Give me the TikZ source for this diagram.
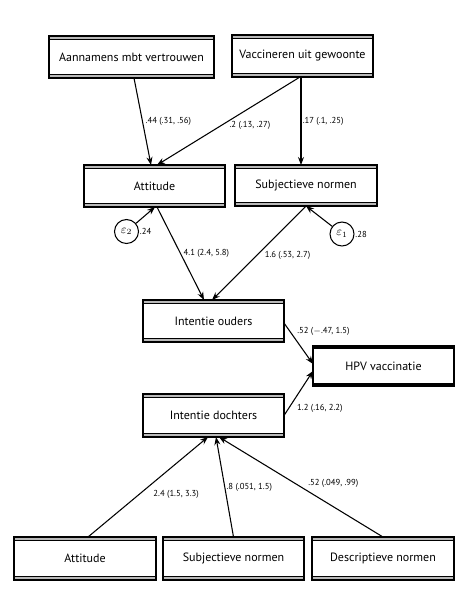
\documentclass[tikz,border=0pt]{standalone}
\usepackage{fontspec}
\setmainfont{PT Sans}
\usetikzlibrary{arrows.meta,calc}
\newcommand\dlines[1]{%
  \fill[gray!55] (#1.north west) rectangle ([yshift=-2.4pt]#1.north east);
  \draw[line width=0.5pt] ([yshift=-2.4pt]#1.north west) -- ([yshift=-2.4pt]#1.north east);
  \fill[gray!55] (#1.south west) rectangle ([yshift=2.4pt]#1.south east);
  \draw[line width=0.5pt] ([yshift=2.4pt]#1.south west) -- ([yshift=2.4pt]#1.south east);
  \draw[line width=0.9pt] (#1.north west) rectangle (#1.south east);
}
\tikzset{
  box/.style={draw, line width=0.9pt, fill=white, outer sep=0pt, inner sep=2pt,
    font=\fontsize{9}{11}\selectfont},
  bw/.style={minimum width=#1*0.75pt},
  bh/.style={minimum height=#1*0.75pt},
  lbl/.style={font=\fontsize{6.5}{8}\selectfont, inner sep=1pt},
  arr/.style={-{Stealth[length=6pt,width=4.5pt]}, line width=0.8pt},
  errc/.style={circle, draw, line width=0.8pt, minimum size=18pt, inner sep=0pt, font=\fontsize{9}{10}\selectfont},
}
\begin{document}
\begin{tikzpicture}[x=0.75pt,y=-0.75pt]
\useasboundingbox (0,0) rectangle (464,597);
\fill[white] (0,0) rectangle (464,597);
% nodes
\node[box,bw=165,bh=42] (a) at (131.5,57) {Aannamens mbt vertrouwen};
\node[box,bw=141,bh=42] (v) at (302.5,56) {Vaccineren uit gewoonte};
\node[box,bw=141,bh=42] (att) at (154.5,186) {Attitude};
\node[box,bw=142,bh=41] (sub) at (306,185.5) {Subjectieve normen};
\node[box,bw=141,bh=42] (io) at (213.5,321) {Intentie ouders};
\node[box,bw=141,bh=40,line width=1.4pt] (hpv) at (383.5,366) {HPV vaccinatie};
\node[box,bw=141,bh=43] (id) at (213.5,415.5) {Intentie dochters};
\node[box,bw=142,bh=43] (b1) at (85,558.5) {Attitude};
\node[box,bw=141,bh=43] (b2) at (233.5,558.5) {Subjectieve normen};
\node[box,bw=142,bh=43] (b3) at (383,558.5) {Descriptieve normen};
\foreach \n in {a,v,att,sub,io,id,b1,b2,b3} {\dlines{\n}}
\draw[line width=3pt] ([yshift=-1pt]hpv.north west) -- ([yshift=-1pt]hpv.north east);
\draw[line width=3pt] ([yshift=1pt]hpv.south west) -- ([yshift=1pt]hpv.south east);
\node[errc, label={[lbl,inner sep=0.5pt]east:.24}] (e2) at (126.5,231.5) {$\varepsilon_2$};
\node[errc, label={[lbl,inner sep=0.5pt]east:.28}] (e1) at (342,234) {$\varepsilon_1$};
% connectors
\draw[arr] ($(a.south)+(2.5,0)$) -- ($(att.north)+(-3.5,0)$)
  node[lbl,pos=0.5,right,xshift=1pt] {.44 (.31, .56)};
\draw[arr] ($(v.south)+(-2.5,0)$) -- ($(att.north)+(2.5,0)$)
  node[lbl,pos=0.35,below,yshift=-9pt] {.2 (.13, .27)};
\draw[arr] ($(v.south)+(-1.5,0)$) -- ($(sub.north)+(-5,0)$)
  node[lbl,pos=0.5,right] {.17 (.1, .25)};
\draw[arr] (e2) -- ($(att.south)+(0.5,0)$);
\draw[arr] (e1) -- (sub.south);
\draw[arr] ($(att.south)+(2.5,0)$) -- ($(io.north)+(-9.5,0)$)
  node[lbl,pos=0.5,right,xshift=1pt] {4.1 (2.4, 5.8)};
\draw[arr] (sub.south) -- ($(io.north)+(-1.5,0)$)
  node[lbl,pos=0.5,right,xshift=3pt,yshift=-2pt] {1.6 (.53, 2.7)};
\draw[arr] ($(io.east)+(0,2)$) -- ($(hpv.west)+(0,-2)$)
  node[lbl,pos=0.35,anchor=south west,xshift=1pt] {.52 ($-$.47, 1.5)};
\draw[arr] ($(id.east)+(0,0)$) -- ($(hpv.west)+(0,5)$)
  node[lbl,pos=0.3,anchor=north west,xshift=2pt] {1.2 (.16, 2.2)};
\draw[arr] ($(b1.north)+(3,0)$) -- ($(id.south)+(-5.5,0)$)
  node[lbl,pos=0.43,anchor=west,xshift=9pt] {2.4 (1.5, 3.3)};
\draw[arr] (b2.north) -- ($(id.south)+(2.5,0)$)
  node[lbl,pos=0.5,right] {.8 (.051, 1.5)};
\draw[arr] (b3.north) -- ($(id.south)+(5.5,0)$)
  node[lbl,pos=0.475,anchor=south west,xshift=1pt] {.52 (.049, .99)};
\end{tikzpicture}
\end{document}
